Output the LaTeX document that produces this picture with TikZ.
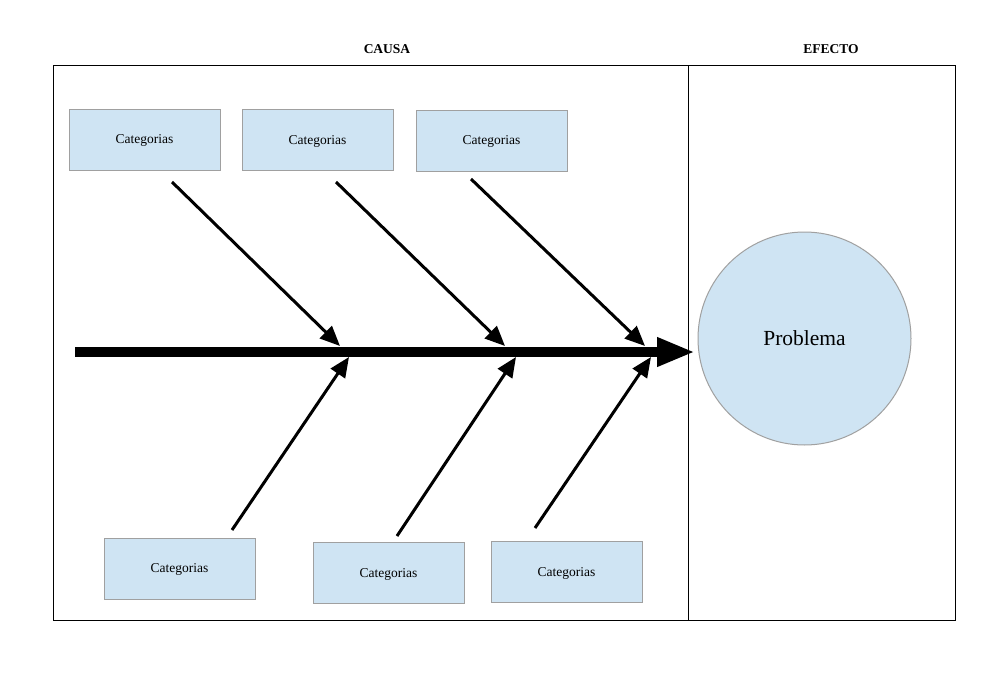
\documentclass[tikz,border=0pt]{standalone}
\usepackage{fontspec}
\setmainfont{Liberation Serif}
\usetikzlibrary{arrows.meta}
\definecolor{boxfill}{RGB}{207,228,243}
\definecolor{boxline}{RGB}{160,160,160}
\tikzset{
  catbox/.style={draw=boxline, fill=boxfill, line width=1pt, minimum width=151pt, minimum height=61pt, inner sep=0pt, text depth=0pt, font=\fontsize{13.5}{16}\selectfont},
  head/.style={font=\bfseries\fontsize{13.5}{16}\selectfont},
  bone/.style={line width=3pt, -{Triangle[length=20pt,width=17pt]}},
  spine/.style={line width=10pt, -{Triangle[length=38pt,width=27pt]}},
  frame/.style={draw=black, line width=1pt}
}
\begin{document}
\begin{tikzpicture}[x=1pt,y=-1pt]
\useasboundingbox (0,0) rectangle (1004,685);
\fill[white] (0,0) rectangle (1004,685);
% frame
\draw[frame] (53,66) rectangle (955,620);
\draw[frame] (688,66) -- (688,620);
\node[head] (causa) at (387,49) {CAUSA};
\node[head] (efecto) at (831,49) {EFECTO};
% boxes
\node[catbox] (c1) at (144.5,139.5) {Categorias};
\node[catbox] (c2) at (317.5,140) {Categorias};
\node[catbox] (c3) at (491.5,140.5) {Categorias};
\node[catbox] (c4) at (179.5,568.5) {Categorias};
\node[catbox] (c5) at (388.5,573) {Categorias};
\node[catbox] (c6) at (566.5,572) {Categorias};
% problem
\node[circle, draw=boxline, fill=boxfill, line width=1pt, minimum size=213pt, inner sep=0pt, font=\fontsize{21.5}{24}\selectfont] (prob) at (804.5,338.5) {Problema};
% spine
\coordinate (s0) at (75,352);
\coordinate (s1) at (695,352);
\draw[spine] (s0) -- (s1);
% bones
\coordinate (a1) at (172,182); \coordinate (b1) at (340,346);
\coordinate (a2) at (336,182); \coordinate (b2) at (505,346);
\coordinate (a3) at (471,179); \coordinate (b3) at (645,346);
\coordinate (a4) at (232,530); \coordinate (b4) at (349,357);
\coordinate (a5) at (397,536); \coordinate (b5) at (516,357);
\coordinate (a6) at (535,528); \coordinate (b6) at (651,357);
\draw[bone] (a1) -- (b1);
\draw[bone] (a2) -- (b2);
\draw[bone] (a3) -- (b3);
\draw[bone] (a4) -- (b4);
\draw[bone] (a5) -- (b5);
\draw[bone] (a6) -- (b6);
\end{tikzpicture}
\end{document}
